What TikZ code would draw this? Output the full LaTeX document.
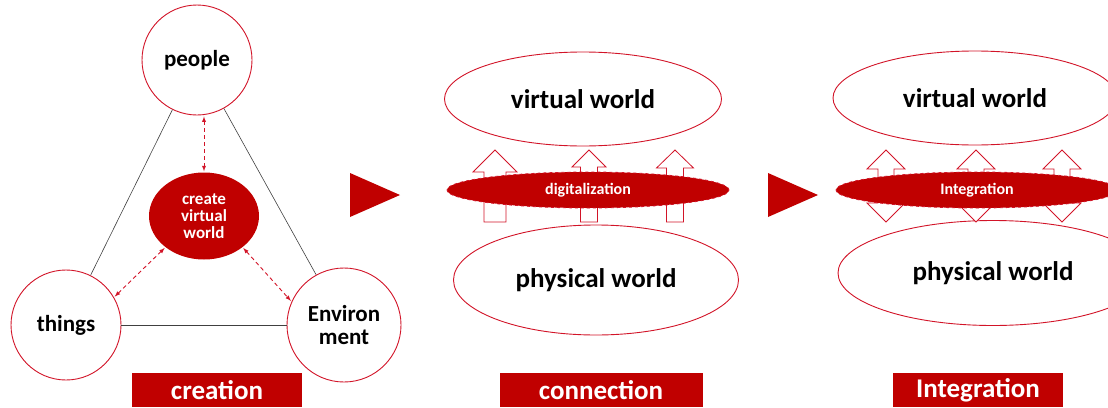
\documentclass[tikz,border=0pt]{standalone}
\usepackage{fontspec}
\setmainfont{Carlito}
\usepackage{tikz}
\usetikzlibrary{shapes,arrows,positioning,calc}

\definecolor{darkred}{RGB}{192,0,0}
\definecolor{linered}{RGB}{210,20,40}

\tikzset{
	ball/.style={circle,draw=linered,line width=0.9pt,fill=white,minimum size=110pt,inner sep=0pt,align=center,font=\fontsize{23}{23}\selectfont\bfseries},
	world/.style={ellipse,draw=linered,line width=0.9pt,fill=white,inner sep=0pt,font=\fontsize{27}{27}\selectfont\bfseries},
	band/.style={ellipse,draw=linered,dashed,line width=0.8pt,fill=darkred,text=white,inner sep=0pt,minimum height=36pt,font=\fontsize{16}{16}\selectfont\bfseries},
	tag/.style={rectangle,fill=darkred,text=white,minimum height=34pt,inner sep=0pt,font=\fontsize{27}{27}\selectfont\bfseries},
	link/.style={dash pattern=on 4pt off 3pt,<->,>=latex,linered,line width=0.9pt,shorten <=1pt,shorten >=1pt},
	edge/.style={black!75,line width=0.6pt},
	blockarrow/.style={draw=linered,line width=0.8pt,fill=white}
}

\begin{document}
\begin{tikzpicture}[x=1pt,y=-1pt]
\useasboundingbox (0,0) rectangle (1108,407);

% creation
\node[ball] (people) at (197,60) {people};
\node[ball] (things) at (66,325) {things};
\node[ball,minimum size=114pt,font=\fontsize{23}{23}\selectfont\bfseries] (env) at (344,325) {Environ\\ment};
\draw[edge] (people) -- (things);
\draw[edge] (people) -- (env);
\draw[edge] (things) -- (env);
\node[ellipse,fill=darkred,text=white,minimum width=110pt,minimum height=87pt,inner sep=0pt,align=center,font=\fontsize{17}{17}\selectfont\bfseries] (cvw) at (204,216) {create\\virtual\\world};
\draw[link] (people.south -| cvw.north) -- (cvw.north);
\draw[link] (cvw.219) -- (things.30);
\draw[link] (cvw.321) -- (env.156);
\node[tag,minimum width=170pt] (creation) at (217,390) {creation};

% pointers
\fill[darkred] (350,173) -- (400,195) -- (350,217) -- cycle;
\fill[darkred] (768,173) -- (818,195) -- (768,217) -- cycle;

% connection
\node[world,minimum width=277pt,minimum height=94pt] (virtual1) at (583,99) {virtual world};
\node[world,minimum width=285pt,minimum height=110pt] (physical1) at (596,280) {physical world};
\foreach \xc/\hw/\sw/\hb in {495/22/11/172, 589/17/8.5/167, 675/18.5/8.5/168}
	\draw[blockarrow] (\xc-\sw,222) -- (\xc-\sw,\hb) -- (\xc-\hw,\hb) -- (\xc,150) -- (\xc+\hw,\hb) -- (\xc+\sw,\hb) -- (\xc+\sw,222) -- cycle;
\node[band,minimum width=282pt] (digital) at (588,190) {digitalization};
\node[tag,minimum width=203pt] (connection) at (601,390) {connection};

% integration
\node[world,minimum width=284pt,minimum height=94pt] (virtual2) at (975,98) {virtual world};
\node[world,minimum width=310pt,minimum height=105pt] (physical2) at (993,273) {physical world};
\foreach \xc in {886,976,1062}
	\draw[blockarrow] (\xc-8,186) -- (\xc-8,169) -- (\xc-19,169) -- (\xc,150) -- (\xc+19,169) -- (\xc+8,169) -- (\xc+8,186)
		-- (\xc+8,203) -- (\xc+19,203) -- (\xc,222) -- (\xc-19,203) -- (\xc-8,203) -- cycle;
\node[band,minimum width=282pt] (integ) at (977,190) {Integration};
\node[tag,minimum width=170pt] (integration) at (978,390) {Integration};
\end{tikzpicture}
\end{document}
